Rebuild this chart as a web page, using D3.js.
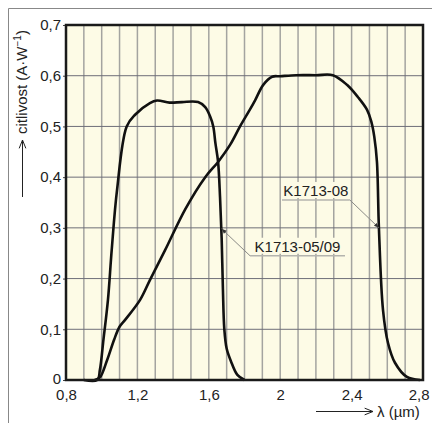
<!DOCTYPE html>
<html>
<head>
<meta charset="utf-8">
<script src="https://cdn.jsdelivr.net/npm/d3@7/dist/d3.min.js"></script>
<style>
  body { margin: 0; background: #fff; }
  svg text { font-family: "Liberation Sans", Arial, sans-serif; fill: #222; }
</style>
</head>
<body>
<svg id="chart" width="432" height="423"></svg>
<script>
// tick values
var xTicks = [0.8, 1.2, 1.6, 2.0, 2.4, 2.8];
var yTicks = [0, 0.1, 0.2, 0.3, 0.4, 0.5, 0.6, 0.7];

// K1713-05/09
var curveA_x = [0.90, 0.975, 0.99, 1.01, 1.035, 1.056, 1.086, 1.14, 1.187, 1.27, 1.31, 1.38, 1.45, 1.54, 1.58, 1.607, 1.625, 1.637, 1.652, 1.663, 1.672, 1.679, 1.687, 1.70, 1.724, 1.76, 1.80];
var curveA_y = [0, 0, 0.02, 0.08, 0.158, 0.256, 0.375, 0.5, 0.523, 0.546, 0.551, 0.547, 0.548, 0.548, 0.538, 0.52, 0.5, 0.467, 0.43, 0.36, 0.28, 0.18, 0.1, 0.062, 0.037, 0.01, 0];

// K1713-08
var curveB_x = [0.96, 0.99, 1.03, 1.07, 1.10, 1.13, 1.215, 1.27, 1.355, 1.47, 1.58, 1.652, 1.72, 1.775, 1.83, 1.86, 1.905, 1.955, 2.0, 2.09, 2.2, 2.295, 2.374, 2.435, 2.486, 2.51, 2.527, 2.542, 2.553, 2.576, 2.604, 2.643, 2.71, 2.783];
var curveB_y = [0, 0.005, 0.039, 0.08, 0.105, 0.118, 0.158, 0.197, 0.256, 0.338, 0.4, 0.43, 0.464, 0.5, 0.533, 0.552, 0.582, 0.598, 0.599, 0.601, 0.601, 0.601, 0.582, 0.558, 0.533, 0.51, 0.48, 0.43, 0.3, 0.138, 0.073, 0.034, 0.006, 0];

// annotations: label text, underline, arrow target
var labelNames = ["K1713-08", "K1713-05/09"];
var labelX = [2.01, 1.831];       // underline start
var labelX2 = [2.39, 2.363];      // underline end
var labelY = [0.355, 0.245];      // underline level
var leaderFromX = [2.39, 1.831];
var targetX = [2.553, 1.672];
var targetY = [0.30, 0.298];

var svg = d3.select("#chart"),
    margin = {top: 25, right: 9, bottom: 43, left: 66},
    width = +svg.attr("width") - margin.left - margin.right,
    height = +svg.attr("height") - margin.top - margin.bottom;

// outer frame (left and top)
svg.append("path")
    .attr("d", "M8.5,423V8.5H432")
    .attr("fill", "none")
    .attr("stroke", "#888")
    .attr("stroke-width", 1);

var x = d3.scaleLinear().domain([0.8, 2.8]).range([0, width]);
var y = d3.scaleLinear().domain([0, 0.7]).range([height, 0]);

var g = svg.append("g")
    .attr("transform", "translate(" + margin.left + "," + margin.top + ")");

g.append("rect")
    .attr("width", width)
    .attr("height", height)
    .attr("fill", "#fdfbe6");

// vertical grid every 0.1
g.append("g")
    .selectAll("line")
    .data(d3.range(1, 20).map(function (i) { return 0.8 + i * 0.1; }))
    .enter().append("line")
    .attr("x1", function (d) { return x(d); })
    .attr("x2", function (d) { return x(d); })
    .attr("y1", 0)
    .attr("y2", height)
    .attr("stroke", "#a4a4a0")
    .attr("stroke-width", 1.5);

// horizontal grid
g.append("g")
    .selectAll("line")
    .data(yTicks.slice(1, -1))
    .enter().append("line")
    .attr("x1", 0)
    .attr("x2", width)
    .attr("y1", function (d) { return y(d); })
    .attr("y2", function (d) { return y(d); })
    .attr("stroke", "#6e6e78")
    .attr("stroke-width", 1);

// axes
var fmt = function (d) { return d3.format("")(+d.toFixed(1)).replace(".", ","); };

var yAxis = g.append("g")
    .call(d3.axisLeft(y).tickValues(yTicks).tickSize(3).tickPadding(2).tickFormat(fmt));
yAxis.select(".domain").remove();
yAxis.selectAll("line").attr("stroke", "#444");
yAxis.selectAll("text").style("font-size", "15px").attr("fill", "#222");
yAxis.selectAll("text").filter(function (d) { return d === 0; }).attr("dy", "0.2em");

var xAxis = g.append("g")
    .attr("transform", "translate(0," + height + ")")
    .call(d3.axisBottom(x).tickValues(xTicks).tickSize(0).tickPadding(9).tickFormat(fmt));
xAxis.select(".domain").remove();
xAxis.selectAll("text").style("font-size", "15px").attr("fill", "#222");
// last label pulled in so it stays inside the page
xAxis.selectAll("text").filter(function (d) { return d === 2.8; })
    .attr("text-anchor", "end").attr("x", 6);

// curves
var line = d3.line()
    .x(function (d) { return x(d[0]); })
    .y(function (d) { return y(d[1]); })
    .curve(d3.curveCatmullRom.alpha(0.5));

g.append("path")
    .datum(curveA_x.map(function (v, i) { return [v, curveA_y[i]]; }))
    .attr("d", line)
    .attr("fill", "none")
    .attr("stroke", "#111")
    .attr("stroke-width", 2.6);

g.append("path")
    .datum(curveB_x.map(function (v, i) { return [v, curveB_y[i]]; }))
    .attr("d", line)
    .attr("fill", "none")
    .attr("stroke", "#111")
    .attr("stroke-width", 2.6);

// plot border
g.append("rect")
    .attr("width", width)
    .attr("height", height)
    .attr("fill", "none")
    .attr("stroke", "#1a1a1a")
    .attr("stroke-width", 2.5);

// annotations
labelNames.forEach(function (name, i) {
    var ux1 = x(labelX[i]), ux2 = x(labelX2[i]), uy = y(labelY[i]);
    var lx = x(leaderFromX[i]);
    var tx = x(targetX[i]), ty = y(targetY[i]);
    var ang = Math.atan2(ty - uy, tx - lx);

    g.append("rect")
        .attr("x", ux1 + 1)
        .attr("y", uy - 18)
        .attr("width", ux2 - ux1 - 2)
        .attr("height", 16)
        .attr("fill", "#fdfbe6");

    g.append("text")
        .attr("x", (ux1 + ux2) / 2)
        .attr("y", uy - 4)
        .attr("text-anchor", "middle")
        .style("font-size", "15px")
        .text(name);

    g.append("line")
        .attr("x1", ux1).attr("x2", ux2)
        .attr("y1", uy).attr("y2", uy)
        .attr("stroke", "#b4b4ae")
        .attr("stroke-width", 1.5);

    g.append("line")
        .attr("x1", lx).attr("y1", uy)
        .attr("x2", tx).attr("y2", ty)
        .attr("stroke", "#8a8a86")
        .attr("stroke-width", 1);

    // small arrow head
    var s = 5, w = 2;
    var bx = tx - s * Math.cos(ang), by = ty - s * Math.sin(ang);
    g.append("path")
        .attr("d", "M" + tx + "," + ty +
            "L" + (bx - w * Math.sin(ang)) + "," + (by + w * Math.cos(ang)) +
            "L" + (bx + w * Math.sin(ang)) + "," + (by - w * Math.cos(ang)) + "Z")
        .attr("fill", "#333");
});

// axis titles with arrows
function arrow(x1, y1, x2, y2) {
    var ang = Math.atan2(y2 - y1, x2 - x1), h = 9, a = 0.38;
    svg.append("path")
        .attr("d", "M" + x1 + "," + y1 + "L" + x2 + "," + y2 +
            "M" + (x2 - h * Math.cos(ang - a)) + "," + (y2 - h * Math.sin(ang - a)) +
            "L" + x2 + "," + y2 +
            "L" + (x2 - h * Math.cos(ang + a)) + "," + (y2 - h * Math.sin(ang + a)))
        .attr("fill", "none")
        .attr("stroke", "#222")
        .attr("stroke-width", 1);
}

arrow(22.5, 197, 22.5, 140);
var yt = svg.append("text")
    .attr("transform", "translate(27,134)rotate(-90)")
    .style("font-size", "15px");
yt.append("tspan").text("citlivost (A·W");
yt.append("tspan").attr("dy", -6).style("font-size", "10px").text("−1");
yt.append("tspan").attr("dy", 6).text(")");

arrow(316, 411.5, 373, 411.5);
svg.append("text")
    .attr("x", 377)
    .attr("y", 417)
    .style("font-size", "15px")
    .text("λ (µm)");
</script>
</body>
</html>
